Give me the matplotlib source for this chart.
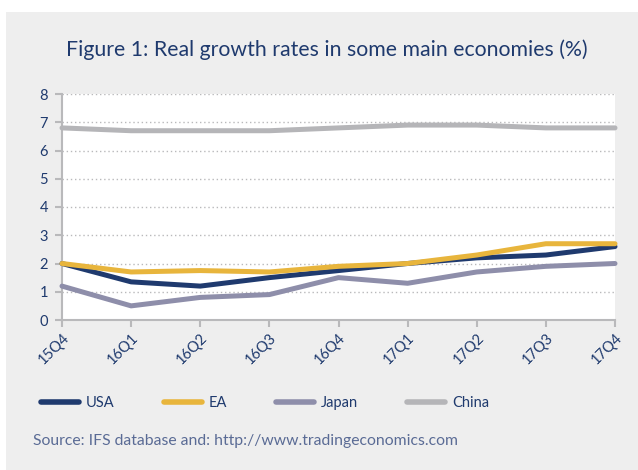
import matplotlib
matplotlib.use("Agg")
import matplotlib.pyplot as plt
from matplotlib.patches import Rectangle

plt.rcParams["font.family"] = ["Lato", "DejaVu Sans"]

# Data
quarters = ["15Q4", "16Q1", "16Q2", "16Q3", "16Q4", "17Q1", "17Q2", "17Q3", "17Q4"]
usa = [2.0, 1.35, 1.2, 1.5, 1.75, 2.0, 2.2, 2.3, 2.6]
ea = [2.0, 1.7, 1.75, 1.7, 1.9, 2.0, 2.3, 2.7, 2.7]
japan = [1.2, 0.5, 0.8, 0.9, 1.5, 1.3, 1.7, 1.9, 2.0]
china = [6.8, 6.7, 6.7, 6.7, 6.8, 6.9, 6.9, 6.8, 6.8]

series = [
    ("USA", usa, "#1f3a6e"),
    ("EA", ea, "#e8b53c"),
    ("Japan", japan, "#8e8eaa"),
    ("China", china, "#b5b5b8"),
]

NAVY = "#1f3a6e"
GRID = "#b9b9bb"

W, H = 638, 470
fig = plt.figure(figsize=(W / 100, H / 100), dpi=100)
fig.patch.set_facecolor("white")
# grey panel behind everything
fig.patches.append(Rectangle((6 / W, 0), 1, 1 - 12 / H, transform=fig.transFigure,
                             facecolor="#eeeeee", edgecolor="none", zorder=-5))

ax = fig.add_axes([62 / W, (H - 320) / H, (615 - 62) / W, (320 - 94) / H])
ax.set_zorder(2)
ax.set_facecolor("white")

x = range(len(quarters))
for name, vals, col in series:
    ax.plot(x, vals, color=col, linewidth=3.6, solid_capstyle="round",
            solid_joinstyle="round", label=name, zorder=3, clip_on=False)

ax.set_xlim(0, len(quarters) - 1)
ax.set_ylim(0, 8)
ax.set_yticks(range(0, 9))
ax.set_xticks(list(x))
ax.set_xticklabels(quarters, rotation=45, ha="right", rotation_mode="anchor")

ax.yaxis.grid(True, linestyle=(0, (1, 2)), color=GRID, linewidth=1, zorder=0)
ax.spines[["top", "right"]].set_visible(False)
for s in ["left", "bottom"]:
    ax.spines[s].set_color(GRID)
    ax.spines[s].set_linewidth(1.5)
ax.tick_params(axis="both", colors=GRID, length=5, width=1.5, labelcolor=NAVY,
               labelsize=10.5)
ax.tick_params(axis="y", pad=5)
ax.tick_params(axis="x", pad=3)

fig.text(327 / W, 1 - 50 / H, "Figure 1: Real growth rates in some main economies (%)",
         ha="center", va="center", fontsize=15.3, color=NAVY)

leg = fig.legend(loc="center", bbox_to_anchor=(265 / W, 1 - 403 / H), ncol=4,
                 frameon=False, fontsize=10.5, handlelength=2.6, handletextpad=0.45,
                 columnspacing=3.4, labelcolor=NAVY)
for line in leg.get_lines():
    line.set_linewidth(4)

fig.text(33 / W, 1 - 441 / H, "Source: IFS database and: http://www.tradingeconomics.com",
         ha="left", va="center", fontsize=11.3, color="#5a6b95")

fig.savefig("out.png", dpi=100)
